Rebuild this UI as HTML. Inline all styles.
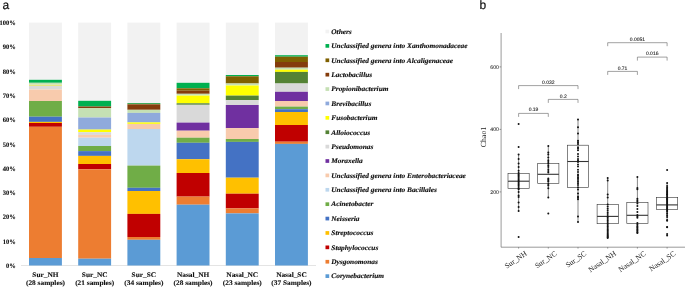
<!DOCTYPE html>
<html lang="en"><head><meta charset="utf-8"><title>Figure</title>
<style>html,body{margin:0;padding:0;background:#fff}svg{display:block;text-rendering:geometricPrecision}.ser{font-family:"Liberation Serif","DejaVu Serif",serif}.san{font-family:"Liberation Sans","DejaVu Sans",sans-serif}</style></head><body>
<svg width="685" height="287" viewBox="0 0 685 287">
<rect width="685" height="287" fill="#fff"/>
<text class="san" x="2.4" y="9.3" font-size="12" fill="#111" stroke="#111" stroke-width="0.2">a</text>
<text class="san" x="479.6" y="9.3" font-size="12" fill="#111" stroke="#111" stroke-width="0.2">b</text>
<g class="ser" font-weight="bold" font-size="6.8" fill="#111" stroke="#111" stroke-width="0.12" text-anchor="end">
<text transform="translate(15.8 268.00) scale(0.96 1)">0%</text>
<text transform="translate(15.8 243.71) scale(0.96 1)">10%</text>
<text transform="translate(15.8 219.42) scale(0.96 1)">20%</text>
<text transform="translate(15.8 195.13) scale(0.96 1)">30%</text>
<text transform="translate(15.8 170.84) scale(0.96 1)">40%</text>
<text transform="translate(15.8 146.55) scale(0.96 1)">50%</text>
<text transform="translate(15.8 122.26) scale(0.96 1)">60%</text>
<text transform="translate(15.8 97.97) scale(0.96 1)">70%</text>
<text transform="translate(15.8 73.68) scale(0.96 1)">80%</text>
<text transform="translate(15.8 49.39) scale(0.96 1)">90%</text>
<text transform="translate(15.8 25.10) scale(0.96 1)">100%</text>
</g>
<rect x="21" y="265.2" width="295" height="0.7" fill="#d9d9d9"/>
<g shape-rendering="auto">
<rect x="29.00" y="22.60" width="32.90" height="57.20" fill="#f2f2f2"/>
<rect x="29.00" y="79.80" width="32.90" height="3.00" fill="#00b050"/>
<rect x="29.00" y="82.80" width="32.90" height="1.90" fill="#c5e0b4"/>
<rect x="29.00" y="84.70" width="32.90" height="1.30" fill="#e6e682"/>
<rect x="29.00" y="86.00" width="32.90" height="3.50" fill="#d9d9d9"/>
<rect x="29.00" y="89.50" width="32.90" height="11.50" fill="#f8cbad"/>
<rect x="29.00" y="101.00" width="32.90" height="15.70" fill="#70ad47"/>
<rect x="29.00" y="116.70" width="32.90" height="5.20" fill="#4472c4"/>
<rect x="29.00" y="121.90" width="32.90" height="1.10" fill="#ffc000"/>
<rect x="29.00" y="123.00" width="32.90" height="3.80" fill="#c00000"/>
<rect x="29.00" y="126.80" width="32.90" height="131.20" fill="#ed7d31"/>
<rect x="29.00" y="258.00" width="32.90" height="7.50" fill="#5b9bd5"/>
<rect x="78.20" y="22.60" width="32.90" height="78.20" fill="#f2f2f2"/>
<rect x="78.20" y="100.80" width="32.90" height="5.70" fill="#00b050"/>
<rect x="78.20" y="106.50" width="32.90" height="1.50" fill="#843c0c"/>
<rect x="78.20" y="108.00" width="32.90" height="9.50" fill="#c5e0b4"/>
<rect x="78.20" y="117.50" width="32.90" height="12.10" fill="#8faadc"/>
<rect x="78.20" y="129.60" width="32.90" height="2.60" fill="#ffff00"/>
<rect x="78.20" y="132.20" width="32.90" height="2.70" fill="#d9d9d9"/>
<rect x="78.20" y="134.90" width="32.90" height="2.80" fill="#f8cbad"/>
<rect x="78.20" y="137.70" width="32.90" height="8.30" fill="#bdd7ee"/>
<rect x="78.20" y="146.00" width="32.90" height="5.10" fill="#70ad47"/>
<rect x="78.20" y="151.10" width="32.90" height="4.80" fill="#4472c4"/>
<rect x="78.20" y="155.90" width="32.90" height="8.10" fill="#ffc000"/>
<rect x="78.20" y="164.00" width="32.90" height="5.30" fill="#c00000"/>
<rect x="78.20" y="169.30" width="32.90" height="89.40" fill="#ed7d31"/>
<rect x="78.20" y="258.70" width="32.90" height="6.80" fill="#5b9bd5"/>
<rect x="127.40" y="22.60" width="32.90" height="80.40" fill="#f2f2f2"/>
<rect x="127.40" y="103.00" width="32.90" height="0.80" fill="#00b050"/>
<rect x="127.40" y="103.80" width="32.90" height="0.70" fill="#7f6000"/>
<rect x="127.40" y="104.50" width="32.90" height="5.30" fill="#843c0c"/>
<rect x="127.40" y="109.80" width="32.90" height="3.10" fill="#c5e0b4"/>
<rect x="127.40" y="112.90" width="32.90" height="9.50" fill="#8faadc"/>
<rect x="127.40" y="122.40" width="32.90" height="1.50" fill="#ffff00"/>
<rect x="127.40" y="123.90" width="32.90" height="5.10" fill="#f8cbad"/>
<rect x="127.40" y="129.00" width="32.90" height="36.60" fill="#bdd7ee"/>
<rect x="127.40" y="165.60" width="32.90" height="22.20" fill="#70ad47"/>
<rect x="127.40" y="187.80" width="32.90" height="3.20" fill="#4472c4"/>
<rect x="127.40" y="191.00" width="32.90" height="22.90" fill="#ffc000"/>
<rect x="127.40" y="213.90" width="32.90" height="23.10" fill="#c00000"/>
<rect x="127.40" y="237.00" width="32.90" height="2.80" fill="#ed7d31"/>
<rect x="127.40" y="239.80" width="32.90" height="25.70" fill="#5b9bd5"/>
<rect x="176.60" y="22.60" width="32.90" height="60.20" fill="#f2f2f2"/>
<rect x="176.60" y="82.80" width="32.90" height="5.50" fill="#00b050"/>
<rect x="176.60" y="88.30" width="32.90" height="2.40" fill="#7f6000"/>
<rect x="176.60" y="90.70" width="32.90" height="3.10" fill="#843c0c"/>
<rect x="176.60" y="93.80" width="32.90" height="1.80" fill="#c5e0b4"/>
<rect x="176.60" y="95.60" width="32.90" height="7.70" fill="#ffff00"/>
<rect x="176.60" y="103.30" width="32.90" height="1.50" fill="#548235"/>
<rect x="176.60" y="104.80" width="32.90" height="17.80" fill="#d9d9d9"/>
<rect x="176.60" y="122.60" width="32.90" height="8.10" fill="#7030a0"/>
<rect x="176.60" y="130.70" width="32.90" height="7.00" fill="#f8cbad"/>
<rect x="176.60" y="137.70" width="32.90" height="5.10" fill="#70ad47"/>
<rect x="176.60" y="142.80" width="32.90" height="16.40" fill="#4472c4"/>
<rect x="176.60" y="159.20" width="32.90" height="13.80" fill="#ffc000"/>
<rect x="176.60" y="173.00" width="32.90" height="23.60" fill="#c00000"/>
<rect x="176.60" y="196.60" width="32.90" height="8.10" fill="#ed7d31"/>
<rect x="176.60" y="204.70" width="32.90" height="60.80" fill="#5b9bd5"/>
<rect x="225.80" y="22.60" width="32.90" height="52.40" fill="#f2f2f2"/>
<rect x="225.80" y="75.00" width="32.90" height="1.30" fill="#00b050"/>
<rect x="225.80" y="76.30" width="32.90" height="7.20" fill="#7f6000"/>
<rect x="225.80" y="83.50" width="32.90" height="2.00" fill="#c5e0b4"/>
<rect x="225.80" y="85.50" width="32.90" height="10.10" fill="#ffff00"/>
<rect x="225.80" y="95.60" width="32.90" height="4.60" fill="#548235"/>
<rect x="225.80" y="100.20" width="32.90" height="4.80" fill="#d9d9d9"/>
<rect x="225.80" y="105.00" width="32.90" height="23.10" fill="#7030a0"/>
<rect x="225.80" y="128.10" width="32.90" height="10.90" fill="#f8cbad"/>
<rect x="225.80" y="139.00" width="32.90" height="2.90" fill="#70ad47"/>
<rect x="225.80" y="141.90" width="32.90" height="35.80" fill="#4472c4"/>
<rect x="225.80" y="177.70" width="32.90" height="16.00" fill="#ffc000"/>
<rect x="225.80" y="193.70" width="32.90" height="14.70" fill="#c00000"/>
<rect x="225.80" y="208.40" width="32.90" height="5.00" fill="#ed7d31"/>
<rect x="225.80" y="213.40" width="32.90" height="52.10" fill="#5b9bd5"/>
<rect x="275.00" y="22.60" width="32.90" height="32.60" fill="#f2f2f2"/>
<rect x="275.00" y="55.20" width="32.90" height="1.50" fill="#00b050"/>
<rect x="275.00" y="56.70" width="32.90" height="5.30" fill="#7f6000"/>
<rect x="275.00" y="62.00" width="32.90" height="5.70" fill="#843c0c"/>
<rect x="275.00" y="67.70" width="32.90" height="2.00" fill="#c5e0b4"/>
<rect x="275.00" y="69.70" width="32.90" height="2.20" fill="#ffff00"/>
<rect x="275.00" y="71.90" width="32.90" height="11.60" fill="#548235"/>
<rect x="275.00" y="83.50" width="32.90" height="8.30" fill="#d9d9d9"/>
<rect x="275.00" y="91.80" width="32.90" height="9.20" fill="#7030a0"/>
<rect x="275.00" y="101.00" width="32.90" height="5.60" fill="#f8cbad"/>
<rect x="275.00" y="106.60" width="32.90" height="2.60" fill="#70ad47"/>
<rect x="275.00" y="109.20" width="32.90" height="2.80" fill="#4472c4"/>
<rect x="275.00" y="112.00" width="32.90" height="13.00" fill="#ffc000"/>
<rect x="275.00" y="125.00" width="32.90" height="16.70" fill="#c00000"/>
<rect x="275.00" y="141.70" width="32.90" height="2.20" fill="#ed7d31"/>
<rect x="275.00" y="143.90" width="32.90" height="121.60" fill="#5b9bd5"/>
</g>
<g class="ser" font-weight="bold" font-size="7.0" fill="#111" stroke="#111" stroke-width="0.12" text-anchor="middle">
<text transform="translate(45.45 276.8) scale(1.05 1)">Sur_NH</text>
<text transform="translate(45.45 285.25) scale(1.05 1)">(28 samples)</text>
<text transform="translate(94.65 276.8) scale(1.05 1)">Sur_NC</text>
<text transform="translate(94.65 285.25) scale(1.05 1)">(21 samples)</text>
<text transform="translate(143.85 276.8) scale(1.05 1)">Sur_SC</text>
<text transform="translate(143.85 285.25) scale(1.05 1)">(34 samples)</text>
<text transform="translate(193.05 276.8) scale(1.05 1)">Nasal_NH</text>
<text transform="translate(193.05 285.25) scale(1.05 1)">(28 samples)</text>
<text transform="translate(242.25 276.8) scale(1.05 1)">Nasal_NC</text>
<text transform="translate(242.25 285.25) scale(1.05 1)">(23 samples)</text>
<text transform="translate(291.45 276.8) scale(1.05 1)">Nasal_SC</text>
<text transform="translate(291.45 285.25) scale(1.05 1)">(37 Samples)</text>
</g>
<g class="ser" font-weight="bold" font-style="italic" font-size="7.0" fill="#111" stroke="#111" stroke-width="0.15">
<rect x="325.5" y="29.65" width="3.7" height="3.7" stroke="none" fill="#f2f2f2"/>
<text transform="translate(331.3 33.80) scale(1.05 1)">Others</text>
<rect x="325.5" y="44.04" width="3.7" height="3.7" stroke="none" fill="#00b050"/>
<text transform="translate(331.3 48.19) scale(1.05 1)">Unclassified genera into Xanthomonadaceae</text>
<rect x="325.5" y="58.43" width="3.7" height="3.7" stroke="none" fill="#7f6000"/>
<text transform="translate(331.3 62.58) scale(1.05 1)">Unclassified genera into Alcaligenaceae</text>
<rect x="325.5" y="72.82" width="3.7" height="3.7" stroke="none" fill="#843c0c"/>
<text transform="translate(331.3 76.97) scale(1.05 1)">Lactobacillus</text>
<rect x="325.5" y="87.21" width="3.7" height="3.7" stroke="none" fill="#c5e0b4"/>
<text transform="translate(331.3 91.36) scale(1.05 1)">Propionibacterium</text>
<rect x="325.5" y="101.60" width="3.7" height="3.7" stroke="none" fill="#8faadc"/>
<text transform="translate(331.3 105.75) scale(1.05 1)">Brevibacillus</text>
<rect x="325.5" y="115.99" width="3.7" height="3.7" stroke="none" fill="#ffff00"/>
<text transform="translate(331.3 120.14) scale(1.05 1)">Fusobacterium</text>
<rect x="325.5" y="130.38" width="3.7" height="3.7" stroke="none" fill="#548235"/>
<text transform="translate(331.3 134.53) scale(1.05 1)">Alloiococcus</text>
<rect x="325.5" y="144.77" width="3.7" height="3.7" stroke="none" fill="#d9d9d9"/>
<text transform="translate(331.3 148.92) scale(1.05 1)">Pseudomonas</text>
<rect x="325.5" y="159.16" width="3.7" height="3.7" stroke="none" fill="#7030a0"/>
<text transform="translate(331.3 163.31) scale(1.05 1)">Moraxella</text>
<rect x="325.5" y="173.55" width="3.7" height="3.7" stroke="none" fill="#f8cbad"/>
<text transform="translate(331.3 177.70) scale(1.05 1)">Unclassified genera into Enterobacteriaceae</text>
<rect x="325.5" y="187.94" width="3.7" height="3.7" stroke="none" fill="#bdd7ee"/>
<text transform="translate(331.3 192.09) scale(1.05 1)">Unclassified genera into Bacillales</text>
<rect x="325.5" y="202.33" width="3.7" height="3.7" stroke="none" fill="#70ad47"/>
<text transform="translate(331.3 206.48) scale(1.05 1)">Acinetobacter</text>
<rect x="325.5" y="216.72" width="3.7" height="3.7" stroke="none" fill="#4472c4"/>
<text transform="translate(331.3 220.87) scale(1.05 1)">Neisseria</text>
<rect x="325.5" y="231.11" width="3.7" height="3.7" stroke="none" fill="#ffc000"/>
<text transform="translate(331.3 235.26) scale(1.05 1)">Streptococcus</text>
<rect x="325.5" y="245.50" width="3.7" height="3.7" stroke="none" fill="#c00000"/>
<text transform="translate(331.3 249.65) scale(1.05 1)">Staphylococcus</text>
<rect x="325.5" y="259.89" width="3.7" height="3.7" stroke="none" fill="#ed7d31"/>
<text transform="translate(331.3 264.04) scale(1.05 1)">Dysgonomonas</text>
<rect x="325.5" y="274.28" width="3.7" height="3.7" stroke="none" fill="#5b9bd5"/>
<text transform="translate(331.3 278.43) scale(1.05 1)">Corynebacterium</text>
</g>
<g fill="none" stroke="#555" stroke-width="0.6">
<path d="M501.1 33 V247.2 H685"/>
<path d="M501.1 191.90 h-1.5"/>
<path d="M501.1 129.40 h-1.5"/>
<path d="M501.1 66.90 h-1.5"/>
<path d="M518.6 247.2 v1.4"/>
<path d="M548.3 247.2 v1.4"/>
<path d="M578.0 247.2 v1.4"/>
<path d="M607.7 247.2 v1.4"/>
<path d="M637.4 247.2 v1.4"/>
<path d="M667.1 247.2 v1.4"/>
</g>
<g class="san" font-size="5.2" fill="#333" stroke="#333" stroke-width="0.1" text-anchor="end">
<text x="499.0" y="193.75">200</text>
<text x="499.0" y="131.25">400</text>
<text x="499.0" y="68.75">600</text>
</g>
<text class="ser" font-size="7.8" fill="#222" text-anchor="middle" transform="translate(485.6 137.0) rotate(-90)">Chao1</text>
<g fill="none" stroke="#555" stroke-width="0.55">
<path d="M607.7 46.2 V42.7 H667.1 V46.2"/>
<path d="M637.4 60.6 V57.1 H667.1 V60.6"/>
<path d="M607.7 74.9 V71.4 H637.4 V74.9"/>
<path d="M518.6 89.1 V85.6 H578.0 V89.1"/>
<path d="M548.3 102.9 V99.4 H578.0 V102.9"/>
<path d="M518.6 116.9 V113.4 H548.3 V116.9"/>
</g>
<g class="san" font-size="5.0" fill="#222" stroke="#222" stroke-width="0.1" text-anchor="middle">
<text x="637.4" y="40.95">0.0051</text>
<text x="652.2" y="54.95">0.016</text>
<text x="622.5" y="69.90">0.71</text>
<text x="548.3" y="83.85">0.032</text>
<text x="563.2" y="98.10">0.2</text>
<text x="533.5" y="111.40">0.19</text>
</g>
<g fill="none" stroke="#333" stroke-width="0.6">
<path d="M518.6 154.6 V173.3 M518.6 188.6 V211.0"/>
<rect x="508.0" y="173.3" width="21.2" height="15.3"/>
<path d="M548.3 146.0 V163.4 M548.3 183.5 V197.4"/>
<rect x="537.7" y="163.4" width="21.2" height="20.1"/>
<path d="M578.0 119.4 V145.2 M578.0 187.3 V222.0"/>
<rect x="567.4" y="145.2" width="21.2" height="42.1"/>
<path d="M607.7 178.0 V204.3 M607.7 223.7 V237.9"/>
<rect x="597.1" y="204.3" width="21.2" height="19.4"/>
<path d="M637.4 177.1 V202.4 M637.4 223.4 V232.9"/>
<rect x="626.8" y="202.4" width="21.2" height="21.0"/>
<path d="M667.1 183.0 V197.4 M667.1 209.3 V220.5"/>
<rect x="656.5" y="197.4" width="21.2" height="11.9"/>
</g>
<g fill="none" stroke="#333" stroke-width="1.1">
<path d="M508.0 181.2 H529.2"/>
<path d="M537.7 174.3 H558.9"/>
<path d="M567.4 161.5 H588.6"/>
<path d="M597.1 216.4 H618.3"/>
<path d="M626.8 215.3 H648.0"/>
<path d="M656.5 204.9 H677.7"/>
</g>
<g fill="#111">
<circle cx="518.6" cy="123.9" r="1.0"/>
<circle cx="518.6" cy="146.9" r="1.0"/>
<circle cx="518.6" cy="154.6" r="1.0"/>
<circle cx="518.6" cy="159.0" r="1.0"/>
<circle cx="518.6" cy="163.4" r="1.0"/>
<circle cx="518.6" cy="167.0" r="1.0"/>
<circle cx="518.6" cy="170.7" r="1.0"/>
<circle cx="518.6" cy="173.0" r="1.0"/>
<circle cx="518.6" cy="174.4" r="1.0"/>
<circle cx="518.6" cy="175.6" r="1.0"/>
<circle cx="518.6" cy="176.8" r="1.0"/>
<circle cx="518.6" cy="178.0" r="1.0"/>
<circle cx="518.6" cy="179.2" r="1.0"/>
<circle cx="518.6" cy="180.4" r="1.0"/>
<circle cx="518.6" cy="181.7" r="1.0"/>
<circle cx="518.6" cy="183.0" r="1.0"/>
<circle cx="518.6" cy="184.3" r="1.0"/>
<circle cx="518.6" cy="185.6" r="1.0"/>
<circle cx="518.6" cy="187.0" r="1.0"/>
<circle cx="518.6" cy="188.4" r="1.0"/>
<circle cx="518.6" cy="189.2" r="1.0"/>
<circle cx="518.6" cy="192.0" r="1.0"/>
<circle cx="518.6" cy="195.6" r="1.0"/>
<circle cx="518.6" cy="197.0" r="1.0"/>
<circle cx="518.6" cy="202.5" r="1.0"/>
<circle cx="518.6" cy="207.0" r="1.0"/>
<circle cx="518.6" cy="211.0" r="1.0"/>
<circle cx="518.6" cy="237.0" r="1.0"/>
<circle cx="548.3" cy="146.1" r="1.0"/>
<circle cx="548.3" cy="152.4" r="1.0"/>
<circle cx="548.3" cy="154.6" r="1.0"/>
<circle cx="548.3" cy="157.6" r="1.0"/>
<circle cx="548.3" cy="162.0" r="1.0"/>
<circle cx="548.3" cy="163.8" r="1.0"/>
<circle cx="548.3" cy="165.5" r="1.0"/>
<circle cx="548.3" cy="167.0" r="1.0"/>
<circle cx="548.3" cy="169.3" r="1.0"/>
<circle cx="548.3" cy="178.4" r="1.0"/>
<circle cx="548.3" cy="179.6" r="1.0"/>
<circle cx="548.3" cy="180.8" r="1.0"/>
<circle cx="548.3" cy="181.7" r="1.0"/>
<circle cx="548.3" cy="184.0" r="1.0"/>
<circle cx="548.3" cy="185.4" r="1.0"/>
<circle cx="548.3" cy="188.3" r="1.0"/>
<circle cx="548.3" cy="160.2" r="1.0"/>
<circle cx="548.3" cy="171.0" r="1.0"/>
<circle cx="548.3" cy="197.4" r="1.0"/>
<circle cx="548.3" cy="213.5" r="1.0"/>
<circle cx="548.3" cy="172.5" r="1.0"/>
<circle cx="578.0" cy="119.5" r="1.0"/>
<circle cx="578.0" cy="127.3" r="1.0"/>
<circle cx="578.0" cy="133.4" r="1.0"/>
<circle cx="578.0" cy="140.7" r="1.0"/>
<circle cx="578.0" cy="142.2" r="1.0"/>
<circle cx="578.0" cy="144.0" r="1.0"/>
<circle cx="578.0" cy="147.3" r="1.0"/>
<circle cx="578.0" cy="148.4" r="1.0"/>
<circle cx="578.0" cy="150.2" r="1.0"/>
<circle cx="578.0" cy="154.0" r="1.0"/>
<circle cx="578.0" cy="159.0" r="1.0"/>
<circle cx="578.0" cy="160.5" r="1.0"/>
<circle cx="578.0" cy="162.0" r="1.0"/>
<circle cx="578.0" cy="169.7" r="1.0"/>
<circle cx="578.0" cy="174.4" r="1.0"/>
<circle cx="578.0" cy="175.8" r="1.0"/>
<circle cx="578.0" cy="177.2" r="1.0"/>
<circle cx="578.0" cy="178.6" r="1.0"/>
<circle cx="578.0" cy="180.0" r="1.0"/>
<circle cx="578.0" cy="181.7" r="1.0"/>
<circle cx="578.0" cy="183.2" r="1.0"/>
<circle cx="578.0" cy="185.0" r="1.0"/>
<circle cx="578.0" cy="187.3" r="1.0"/>
<circle cx="578.0" cy="193.4" r="1.0"/>
<circle cx="578.0" cy="196.4" r="1.0"/>
<circle cx="578.0" cy="197.8" r="1.0"/>
<circle cx="578.0" cy="199.3" r="1.0"/>
<circle cx="578.0" cy="164.5" r="1.0"/>
<circle cx="578.0" cy="166.5" r="1.0"/>
<circle cx="578.0" cy="172.0" r="1.0"/>
<circle cx="578.0" cy="156.5" r="1.0"/>
<circle cx="578.0" cy="216.4" r="1.0"/>
<circle cx="578.0" cy="189.5" r="1.0"/>
<circle cx="578.0" cy="222.0" r="1.0"/>
<circle cx="607.7" cy="178.0" r="1.0"/>
<circle cx="607.7" cy="180.5" r="1.0"/>
<circle cx="607.7" cy="194.4" r="1.0"/>
<circle cx="607.7" cy="197.5" r="1.0"/>
<circle cx="607.7" cy="204.6" r="1.0"/>
<circle cx="607.7" cy="206.5" r="1.0"/>
<circle cx="607.7" cy="208.4" r="1.0"/>
<circle cx="607.7" cy="210.3" r="1.0"/>
<circle cx="607.7" cy="212.2" r="1.0"/>
<circle cx="607.7" cy="214.1" r="1.0"/>
<circle cx="607.7" cy="216.0" r="1.0"/>
<circle cx="607.7" cy="217.5" r="1.0"/>
<circle cx="607.7" cy="219.0" r="1.0"/>
<circle cx="607.7" cy="220.5" r="1.0"/>
<circle cx="607.7" cy="222.0" r="1.0"/>
<circle cx="607.7" cy="223.5" r="1.0"/>
<circle cx="607.7" cy="225.0" r="1.0"/>
<circle cx="607.7" cy="226.5" r="1.0"/>
<circle cx="607.7" cy="228.0" r="1.0"/>
<circle cx="607.7" cy="229.4" r="1.0"/>
<circle cx="607.7" cy="230.8" r="1.0"/>
<circle cx="607.7" cy="232.0" r="1.0"/>
<circle cx="607.7" cy="233.2" r="1.0"/>
<circle cx="607.7" cy="234.4" r="1.0"/>
<circle cx="607.7" cy="235.4" r="1.0"/>
<circle cx="607.7" cy="236.4" r="1.0"/>
<circle cx="607.7" cy="237.2" r="1.0"/>
<circle cx="607.7" cy="237.9" r="1.0"/>
<circle cx="637.4" cy="177.1" r="1.0"/>
<circle cx="637.4" cy="188.0" r="1.0"/>
<circle cx="637.4" cy="189.3" r="1.0"/>
<circle cx="637.4" cy="198.8" r="1.0"/>
<circle cx="637.4" cy="200.3" r="1.0"/>
<circle cx="637.4" cy="201.7" r="1.0"/>
<circle cx="637.4" cy="203.5" r="1.0"/>
<circle cx="637.4" cy="206.0" r="1.0"/>
<circle cx="637.4" cy="209.0" r="1.0"/>
<circle cx="637.4" cy="212.0" r="1.0"/>
<circle cx="637.4" cy="215.0" r="1.0"/>
<circle cx="637.4" cy="216.4" r="1.0"/>
<circle cx="637.4" cy="217.8" r="1.0"/>
<circle cx="637.4" cy="223.0" r="1.0"/>
<circle cx="637.4" cy="224.5" r="1.0"/>
<circle cx="637.4" cy="225.9" r="1.0"/>
<circle cx="637.4" cy="227.0" r="1.0"/>
<circle cx="637.4" cy="228.0" r="1.0"/>
<circle cx="637.4" cy="229.2" r="1.0"/>
<circle cx="637.4" cy="230.2" r="1.0"/>
<circle cx="637.4" cy="231.3" r="1.0"/>
<circle cx="637.4" cy="232.4" r="1.0"/>
<circle cx="637.4" cy="232.9" r="1.0"/>
<circle cx="667.1" cy="170.0" r="1.0"/>
<circle cx="667.1" cy="183.0" r="1.0"/>
<circle cx="667.1" cy="186.0" r="1.0"/>
<circle cx="667.1" cy="187.8" r="1.0"/>
<circle cx="667.1" cy="189.0" r="1.0"/>
<circle cx="667.1" cy="190.2" r="1.0"/>
<circle cx="667.1" cy="191.4" r="1.0"/>
<circle cx="667.1" cy="192.6" r="1.0"/>
<circle cx="667.1" cy="193.8" r="1.0"/>
<circle cx="667.1" cy="195.0" r="1.0"/>
<circle cx="667.1" cy="196.2" r="1.0"/>
<circle cx="667.1" cy="197.4" r="1.0"/>
<circle cx="667.1" cy="198.4" r="1.0"/>
<circle cx="667.1" cy="199.5" r="1.0"/>
<circle cx="667.1" cy="200.5" r="1.0"/>
<circle cx="667.1" cy="201.5" r="1.0"/>
<circle cx="667.1" cy="202.5" r="1.0"/>
<circle cx="667.1" cy="203.5" r="1.0"/>
<circle cx="667.1" cy="204.5" r="1.0"/>
<circle cx="667.1" cy="205.5" r="1.0"/>
<circle cx="667.1" cy="206.5" r="1.0"/>
<circle cx="667.1" cy="207.5" r="1.0"/>
<circle cx="667.1" cy="208.5" r="1.0"/>
<circle cx="667.1" cy="209.3" r="1.0"/>
<circle cx="667.1" cy="210.5" r="1.0"/>
<circle cx="667.1" cy="211.8" r="1.0"/>
<circle cx="667.1" cy="213.4" r="1.0"/>
<circle cx="667.1" cy="215.2" r="1.0"/>
<circle cx="667.1" cy="217.0" r="1.0"/>
<circle cx="667.1" cy="220.0" r="1.0"/>
<circle cx="667.1" cy="220.7" r="1.0"/>
<circle cx="667.1" cy="227.0" r="1.0"/>
<circle cx="667.1" cy="227.3" r="1.0"/>
<circle cx="667.1" cy="234.0" r="1.0"/>
<circle cx="667.1" cy="235.4" r="1.0"/>
<circle cx="667.1" cy="194.4" r="1.0"/>
<circle cx="667.1" cy="199.0" r="1.0"/>
</g>
<g class="ser" font-size="7.5" fill="#222" text-anchor="end">
<text transform="translate(527.6 254.8) rotate(-34)">Sur_NH</text>
<text transform="translate(557.3 254.8) rotate(-34)">Sur_NC</text>
<text transform="translate(587.0 254.8) rotate(-34)">Sur_SC</text>
<text transform="translate(616.7 254.8) rotate(-34)">Nasal_NH</text>
<text transform="translate(646.4 254.8) rotate(-34)">Nasal_NC</text>
<text transform="translate(676.1 254.8) rotate(-34)">Nasal_SC</text>
</g>
</svg></body></html>
